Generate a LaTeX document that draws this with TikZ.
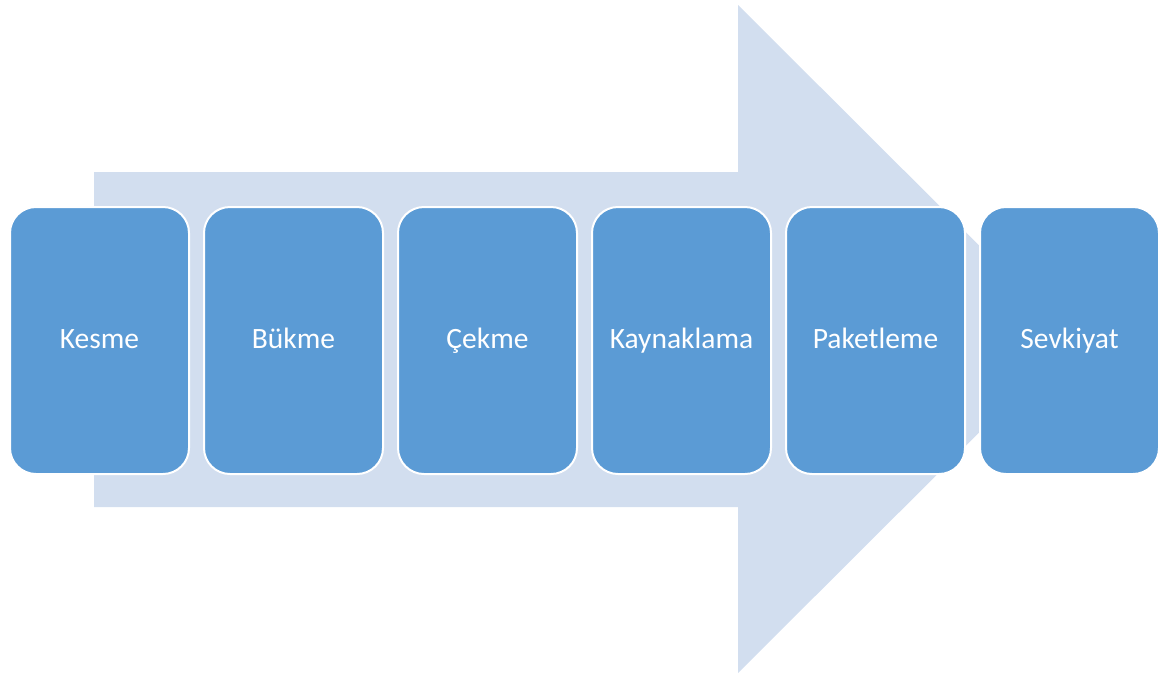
\documentclass[tikz,border=0pt]{standalone}
\usepackage{fontspec}
\setmainfont{Carlito}
\definecolor{boxblue}{HTML}{5B9BD5}
\definecolor{arrowblue}{HTML}{D2DEEF}
\begin{document}
\begin{tikzpicture}[x=1pt,y=-1pt,
  stepbox/.style={draw=white, line width=2pt, fill=boxblue, rounded corners=26pt,
    minimum width=179pt, minimum height=267pt, inner sep=0pt, anchor=north west,
    text height=20pt, text depth=5pt,
    text=white, font=\fontsize{29.5}{34}\selectfont}]
\useasboundingbox (0,0) rectangle (1162,678);
\fill[arrowblue] (94,172) -- (738,172) -- (738,5) -- (1073,339) -- (738,673) -- (738,507) -- (94,507) -- cycle;
\node[stepbox] (s1) at (9,206) {Kesme};
\node[stepbox] (s2) at (203,206) {Bükme};
\node[stepbox] (s3) at (397,206) {Çekme};
\node[stepbox] (s4) at (591,206) {Kaynaklama};
\node[stepbox] (s5) at (785,206) {Paketleme};
\node[stepbox] (s6) at (979,206) {Sevkiyat};
\end{tikzpicture}
\end{document}
